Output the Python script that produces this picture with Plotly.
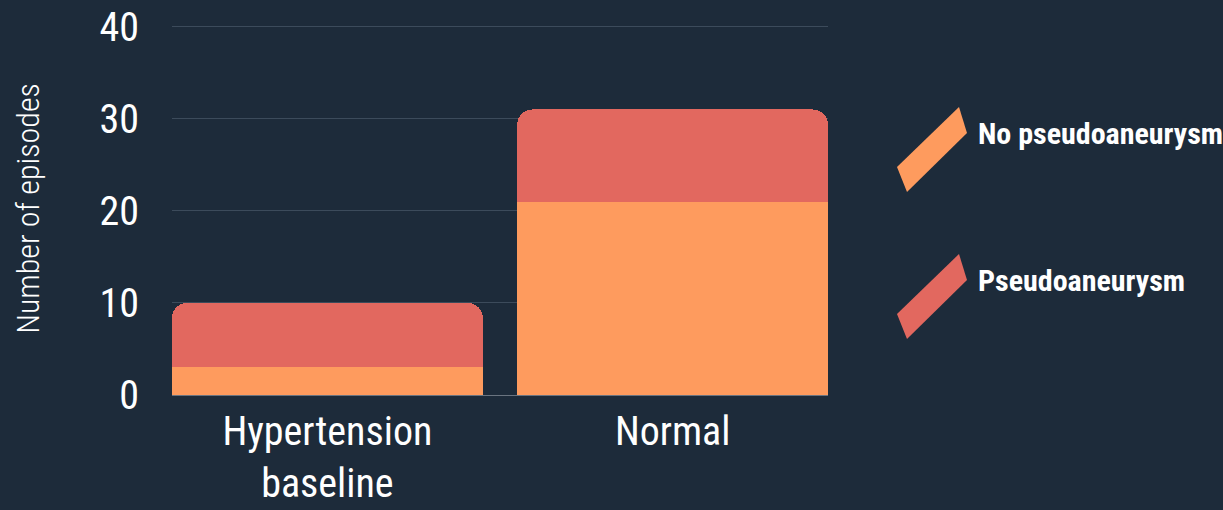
import plotly.graph_objects as go

categories = ["Hypertension<br>baseline", "Normal"]
series_names = ["No pseudoaneurysm", "Pseudoaneurysm"]
no_pseudo = [3, 21]
pseudo = [7, 10]
colors = ["#FE9B5E", "#E2685F"]
y_ticks = [0, 10, 20, 30, 40]

BG = "#1D2B3A"
FONT = "Roboto Condensed, Liberation Sans Narrow, DejaVu Sans Condensed, sans-serif"

W, H = 1223, 510
L, R, T, B = 172, 395, 22, 115
PW, PH = W - L - R, H - T - B


def px(x):
    return (x - L) / PW


def py(y):
    return (H - B - y) / PH


fig = go.Figure()
for name, vals, col in zip(series_names, [no_pseudo, pseudo], colors):
    fig.add_trace(go.Bar(x=categories, y=vals, name=name,
                         marker=dict(color=col, line=dict(width=0)),
                         showlegend=False))

# custom legend: parallelogram swatches + labels (pixel layout of legend box)
legend_rows = [133, 280]
for name, col, yc in zip(series_names, colors, legend_rows):
    pts = [(897, yc + 34), (959, yc - 26), (967, yc), (907, yc + 59)]
    path = "M " + " L ".join(f"{px(x):.5f},{py(y):.5f}" for x, y in pts) + " Z"
    fig.add_shape(type="path", xref="paper", yref="paper", path=path,
                  fillcolor=col, line=dict(width=0), layer="above")
    fig.add_annotation(xref="paper", yref="paper", x=px(976), y=py(yc), text=name,
                       showarrow=False, xanchor="left", yanchor="middle",
                       font=dict(family=FONT, size=30, color="white", weight="bold"))

fig.update_layout(
    barmode="stack",
    bargap=0.1,
    barcornerradius=15,
    width=W, height=H,
    paper_bgcolor=BG, plot_bgcolor=BG,
    margin=dict(l=L, r=R, t=T, b=B),
    font=dict(family=FONT, color="white"),
    xaxis=dict(range=[-0.45, 1.45], showgrid=False, showline=False, zeroline=False,
               automargin=False,
               tickfont=dict(size=40, color="white"), ticks="", ticklabelstandoff=9),
    yaxis=dict(range=[0, 40.5], tickvals=y_ticks, showgrid=True, gridcolor="#3C4B5B", gridwidth=1,
               zeroline=True, zerolinecolor="#6A7480", zerolinewidth=1, automargin=False,
               tickfont=dict(size=40, color="white"), ticklabelstandoff=32,
               title=dict(text="Number of episodes", font=dict(size=32, color="white", weight=300),
                          standoff=50)),
)

fig.write_html("out.html")
